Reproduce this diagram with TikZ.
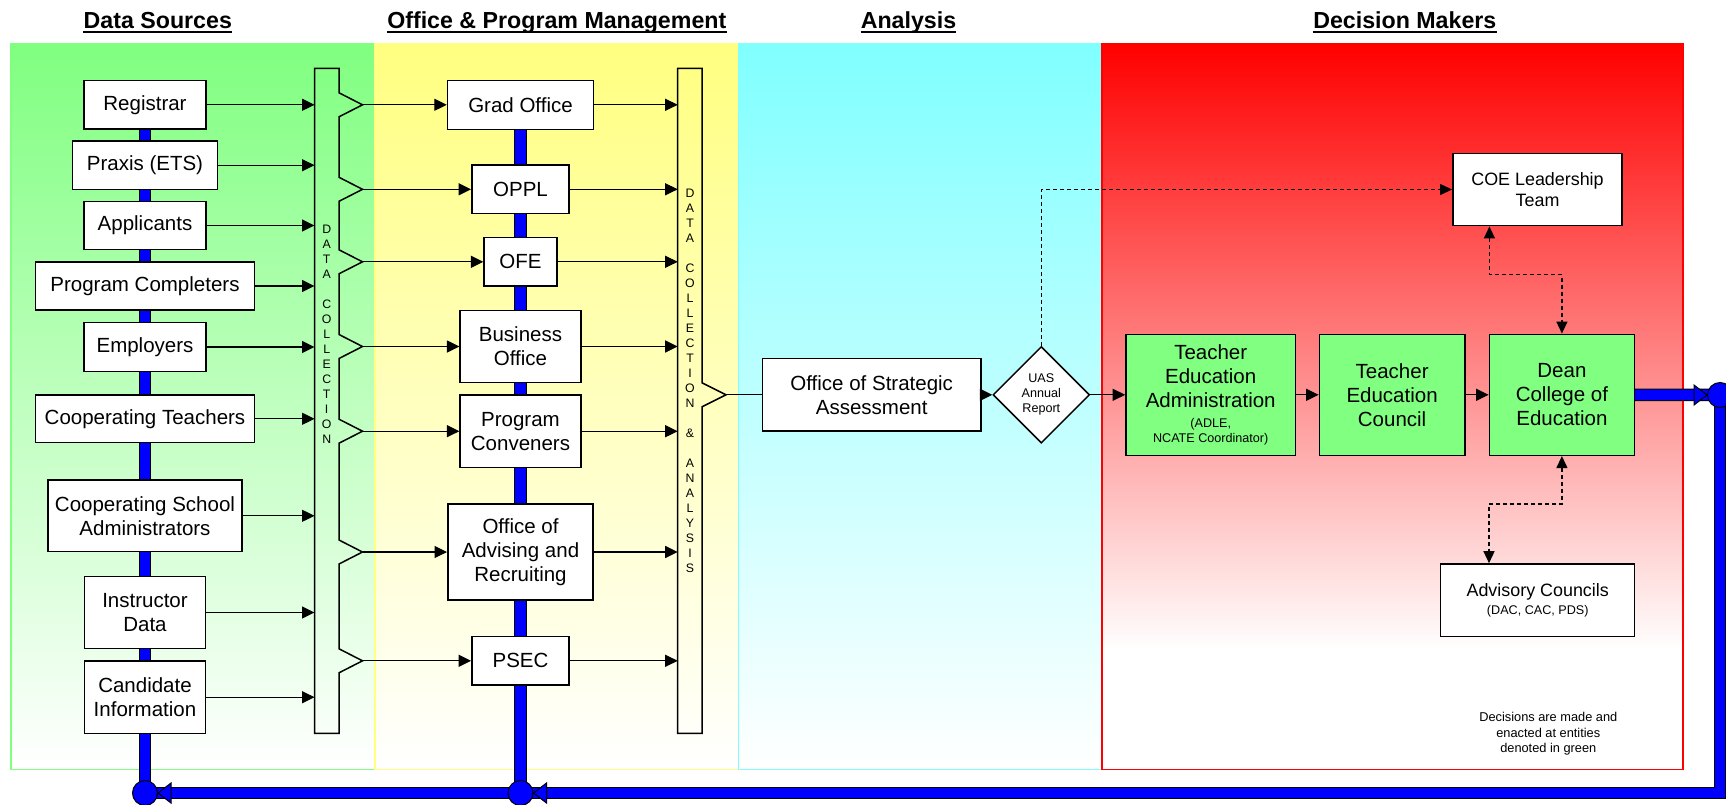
\documentclass[tikz,border=0pt]{standalone}
\usepackage{fontspec}
\setmainfont{Liberation Sans}
\usetikzlibrary{arrows.meta,shapes.geometric}
\pgfdeclarelayer{back}
\pgfdeclarelayer{pipes}
\pgfsetlayers{back,pipes,main}
\definecolor{pipeblue}{RGB}{0,0,255}
\definecolor{rgreen}{RGB}{128,255,128}
\definecolor{ryellow}{RGB}{255,255,128}
\definecolor{rcyan}{RGB}{128,255,255}
\definecolor{rred}{RGB}{255,0,0}
\definecolor{boxgreen}{RGB}{128,255,128}
\newcommand\bxfont{\fontsize{20.5}{24}\selectfont}
\newcommand\mdfont{\fontsize{17.9}{20.7}\selectfont}
\newcommand\smfont{\fontsize{12.6}{15}\selectfont}
\newcommand\hdfont{\fontsize{23.2}{27}\selectfont\bfseries}
\newcommand\barfont{\fontsize{12.3}{15}\selectfont}
\begin{document}
\begin{tikzpicture}[x=1pt,y=-1pt,
  box/.style={draw, line width=1.5pt, fill=white, inner sep=0pt, align=center, font=\bxfont},
  gbox/.style={box, fill=boxgreen},
  mbox/.style={box, font=\mdfont},
  conn/.style={line width=1.3pt, -{Triangle[length=12.5pt,width=12pt]}},
  dashline/.style={line width=1.3pt, dash pattern=on 4pt off 3pt},
  tri/.tip={Triangle[length=12pt,width=11pt]},
  pipe/.style={line width=1pt, draw=black, double=pipeblue, double distance=10.5pt},
  headst/.style={fill=pipeblue, draw=black, line width=1pt, line join=miter},
  dot/.style={circle, fill=pipeblue, draw=black, line width=1pt, minimum size=25pt, inner sep=0pt},
  bar/.style={draw, line width=1.5pt, line join=miter},
  bartext/.style={inner sep=0pt, align=center, font=\barfont},
  hdr/.style={inner sep=0pt, font=\hdfont, anchor=base}]

\useasboundingbox (0,0) rectangle (1726,804);
\clip (0,0) rectangle (1726,804);

% ---------- regions ----------
\begin{pgfonlayer}{back}
  \fill[white] (0,0) rectangle (1726,804);
  \shade[top color=rgreen, bottom color=white] (11,44) rectangle (375,769.3);
  \draw[rgreen, line width=1.5pt] (11,44) rectangle (375,769.3);
  \shade[top color=ryellow, bottom color=white] (375,44) rectangle (738.5,769.3);
  \draw[ryellow, line width=1.5pt] (375,44) rectangle (738.5,769.3);
  \shade[top color=rcyan, bottom color=white] (738.5,44) rectangle (1102,769.3);
  \draw[rcyan, line width=1.5pt] (738.5,44) rectangle (1102,769.3);
  \shade[top color=rred, bottom color=white] (1102,44) rectangle (1683,650);
  \draw[rred, line width=1.5pt] (1102,44) rectangle (1683,769.3);
\end{pgfonlayer}

% ---------- headers ----------
\node[hdr] (h1) at (157.8,28.3) {Data Sources};
\node[hdr] (h2) at (556.8,28.3) {Office \& Program Management};
\node[hdr] (h3) at (908.5,28.3) {Analysis};
\node[hdr] (h4) at (1404.8,28.3) {Decision Makers};
\foreach \h in {h1,h2,h3,h4}
  \draw[line width=2.2pt] ([yshift=-3.6pt]\h.base west) -- ([yshift=-3.6pt]\h.base east);

% ---------- bars ----------
\draw[bar] (314.5,68.3) -- (339,68.3)
  -- (339,92.8) -- (362.5,104.8) -- (339,116.8)
  -- (339,177.3) -- (362.5,189.3) -- (339,201.3)
  -- (339,249.8) -- (362.5,261.8) -- (339,273.8)
  -- (339,334.5) -- (362.5,346.5) -- (339,358.5)
  -- (339,419.2) -- (362.5,431.2) -- (339,443.2)
  -- (339,540) -- (362.5,552) -- (339,564)
  -- (339,648.8) -- (362.5,660.8) -- (339,672.8)
  -- (339,733.3) -- (314.5,733.3) -- cycle;
\draw[bar] (677.7,68.3) -- (702,68.3) -- (702,382.8) -- (726,394.8) -- (702,406.8)
  -- (702,733.3) -- (677.7,733.3) -- cycle;
\node[bartext] (lbt) at (326.7,334) {D\\A\\T\\A\\\mbox{}\\C\\O\\L\\L\\E\\C\\T\\I\\O\\N};
\node[bartext] (rbt) at (690,380.7) {D\\A\\T\\A\\\mbox{}\\C\\O\\L\\L\\E\\C\\T\\I\\O\\N\\\mbox{}\\\&\\\mbox{}\\A\\N\\A\\L\\Y\\S\\I\\S};
\coordinate (lbar) at (314.5,0);
\coordinate (rbar) at (677.7,0);
\coordinate (n1) at (362.5,104.8);
\coordinate (n2) at (362.5,189.3);
\coordinate (n3) at (362.5,261.8);
\coordinate (n4) at (362.5,346.5);
\coordinate (n5) at (362.5,431.2);
\coordinate (n6) at (362.5,552);
\coordinate (n7) at (362.5,660.8);
\coordinate (nr) at (726,394.8);

% ---------- data sources ----------
\node[box, minimum width=122pt, minimum height=48.3pt] (reg) at (145,104.8) {Registrar};
\node[box, minimum width=145.4pt, minimum height=48.3pt] (praxis) at (145,165.2) {Praxis (ETS)};
\node[box, minimum width=122pt, minimum height=48pt] (appl) at (145,225.5) {Applicants};
\node[box, minimum width=218.6pt, minimum height=48pt] (comp) at (145,286) {Program Completers};
\node[box, minimum width=122pt, minimum height=49pt] (empl) at (145,347) {Employers};
\node[box, minimum width=218.6pt, minimum height=47.7pt] (coopt) at (145,418.8) {Cooperating Teachers};
\node[box, minimum width=194pt, minimum height=71.7pt] (coops) at (145,515.8) {Cooperating School\\Administrators};
\node[box, minimum width=121.3pt, minimum height=71.6pt] (instr) at (145,612.5) {Instructor\\Data};
\node[box, minimum width=121.3pt, minimum height=72.3pt] (cand) at (145,697.2) {Candidate\\Information};

% ---------- office & program management ----------
\node[box, minimum width=146pt, minimum height=49pt] (grad) at (520.5,104.8) {Grad Office};
\node[box, minimum width=97.3pt, minimum height=48.7pt] (oppl) at (520.5,189.3) {OPPL};
\node[box, minimum width=72.7pt, minimum height=48.3pt] (ofe) at (520.5,261.8) {OFE};
\node[box, minimum width=120.7pt, minimum height=72.4pt] (bus) at (520.5,346.5) {Business\\Office};
\node[box, minimum width=120.7pt, minimum height=72.3pt] (conv) at (520.5,431.2) {Program\\Conveners};
\node[box, minimum width=145.4pt, minimum height=96pt] (adv) at (520.5,552) {Office of\\Advising and\\Recruiting};
\node[box, minimum width=97.2pt, minimum height=48.3pt] (psec) at (520.5,660.8) {PSEC};

% ---------- analysis ----------
\node[box, minimum width=218.7pt, minimum height=72.3pt] (osa) at (871.7,394.8) {Office of Strategic\\Assessment};
\node[draw, diamond, aspect=1, minimum width=96.6pt, minimum height=96.6pt, inner sep=0pt,
      fill=white, line width=1.5pt, align=center, font=\smfont] (uas) at (1041.3,394.8) {UAS\\Annual\\Report};

% ---------- decision makers ----------
\node[gbox, minimum width=169.5pt, minimum height=121pt] (tea) at (1210.7,394.8)
  {Teacher\\Education\\Administration\\[-4.7pt]{\smfont (ADLE,}\\[-9pt]{\smfont NCATE Coordinator)}};
\node[gbox, minimum width=145.4pt, minimum height=121pt] (tec) at (1392.1,394.8) {Teacher\\Education\\Council};
\node[gbox, minimum width=145pt, minimum height=121pt] (dean) at (1561.9,394.8) {Dean\\College of\\Education};
\node[mbox, minimum width=169.4pt, minimum height=72.4pt] (coe) at (1537.5,189.5) {COE Leadership\\Team};
\node[mbox, minimum width=194pt, minimum height=72.7pt] (advc) at (1537.7,600.3) {Advisory Councils\\[-3.3pt]{\smfont (DAC, CAC, PDS)}};
\node[inner sep=0pt, align=center, font=\fontsize{12.8}{15.5}\selectfont] (note) at (1548.3,733.7)
  {Decisions are made and\\enacted at entities\\denoted in green};

% ---------- connectors ----------
\foreach \b in {reg,praxis,appl,comp,empl,coopt,coops,instr,cand}
  \draw[conn] (\b.east) -- (\b.east -| lbar);
\draw[conn] (n1) -- (grad.west);
\draw[conn] (n2) -- (oppl.west);
\draw[conn] (n3) -- (ofe.west);
\draw[conn] (n4) -- (bus.west);
\draw[conn] (n5) -- (conv.west);
\draw[conn] (n6) -- (adv.west);
\draw[conn] (n7) -- (psec.west);
\foreach \b in {grad,oppl,ofe,bus,conv,adv,psec}
  \draw[conn] (\b.east) -- (\b.east -| rbar);
\draw[line width=1.3pt] (nr) -- (osa.west);
\draw[conn] (osa.east) -- (uas.west);
\draw[conn] (uas.east) -- (tea.west);
\draw[conn] (tea.east) -- (tec.west);
\draw[conn] (tec.east) -- (dean.west);
\draw[dashline, -tri] (uas.north) |- (coe.west);
\draw[dashline, tri-tri] ([xshift=-48.1pt]coe.south) -- ++(0,48.3) -| (dean.north);
\draw[dashline, tri-tri] (dean.south) -- ++(0,48) -| ([xshift=-48.7pt]advc.north);

% ---------- feedback pipes ----------
\node[dot] (cL) at (145,793) {};
\node[dot] (cM) at (520.5,793) {};
\node[dot] (cR) at (1720,395) {};
\begin{pgfonlayer}{pipes}
  \draw[pipe] (reg.south) -- (cL.center);
  \draw[pipe] (grad.south) -- (cM.center);
  \draw[pipe] (cR.center) |- (cM.center);
  \draw[pipe] (cM.center) -- (cL.center);
  \draw[pipe] (dean.east) -- (cR.center);
\end{pgfonlayer}
\draw[headst] (cM.east) -- ++(13,-10) -- ++(0,20) -- cycle;
\draw[headst] (cL.east) -- ++(13,-10) -- ++(0,20) -- cycle;
\draw[headst] (cR.west) -- ++(-13,-10) -- ++(0,20) -- cycle;
\end{tikzpicture}
\end{document}
